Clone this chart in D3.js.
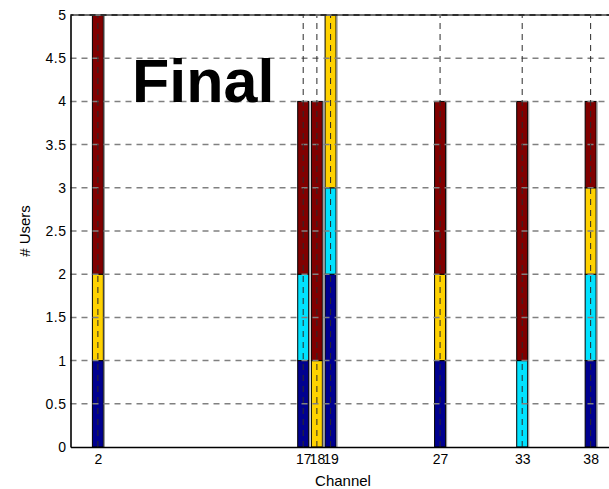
<!DOCTYPE html>
<html>
<head>
<meta charset="utf-8">
<script src="https://cdn.jsdelivr.net/npm/d3@7"></script>
<style>
  html, body { margin: 0; padding: 0; background: #fff; }
  svg { display: block; font-family: "Liberation Sans", Arial, sans-serif; }
</style>
</head>
<body>
<svg id="chart" width="609" height="489"></svg>
<script>
// Channels on the x axis
const channels = [2, 17, 18, 19, 27, 33, 38];
// Users per channel, one array per stacked group (bottom to top)
const groupA = [1, 1, 0, 2, 1, 0, 1];
const groupB = [0, 1, 0, 1, 0, 1, 1];
const groupC = [1, 0, 1, 2, 1, 0, 1];
const groupD = [3, 2, 3, 0, 2, 3, 1];
const seriesNames = ["A", "B", "C", "D"];
const seriesColors = ["#00008f", "#00e2ff", "#ffd200", "#800000"];
const yTicks = [0, 0.5, 1, 1.5, 2, 2.5, 3, 3.5, 4, 4.5, 5];
const yTickLabels = ["0", "0.5", "1", "1.5", "2", "2.5", "3", "3.5", "4", "4.5", "5"];

const rows = channels.map((c, i) => ({
  channel: c, A: groupA[i], B: groupB[i], C: groupC[i], D: groupD[i]
}));

const svg = d3.select("#chart");
const plotL = 70.5, plotR = 618, plotT = 15, plotB = 447;

const x = d3.scaleLinear().domain([0, 40]).range([plotL, plotR]);
const y = d3.scaleLinear().domain([0, 5]).range([plotB, plotT]);
const barW = x(0.8) - x(0);

const stacked = d3.stack().keys(seriesNames)(rows);

// stacked bars
const layers = svg.append("g");
stacked.forEach((layer, k) => {
  layers.append("g").selectAll("rect")
    .data(layer.filter(d => d[1] > d[0]))
    .join("rect")
    .attr("x", d => x(d.data.channel) - barW / 2)
    .attr("y", d => y(d[1]))
    .attr("width", barW)
    .attr("height", d => y(d[0]) - y(d[1]))
    .attr("fill", seriesColors[k])
    .attr("stroke", "#000")
    .attr("stroke-width", 1);
});
// soft shading on the right edge of each bar
svg.append("g").selectAll("line")
  .data(rows)
  .join("line")
  .attr("x1", d => x(d.channel) + barW / 2 + 1)
  .attr("x2", d => x(d.channel) + barW / 2 + 1)
  .attr("y1", d => y(d.A + d.B + d.C + d.D))
  .attr("y2", plotB)
  .attr("stroke", "#9a9a9a")
  .attr("stroke-width", 1.2);

// grid lines drawn above the bars
const grid = svg.append("g");
grid.selectAll("line.h")
  .data(yTicks.filter(v => v > 0 && v < 5))
  .join("line")
  .attr("class", "h")
  .attr("x1", plotL).attr("x2", plotR)
  .attr("y1", d => y(d)).attr("y2", d => y(d))
  .attr("stroke", "#808080")
  .attr("stroke-width", 1.5)
  .attr("stroke-dasharray", "6,5");
grid.selectAll("line.v")
  .data(channels)
  .join("line")
  .attr("class", "v")
  .attr("x1", d => x(d)).attr("x2", d => x(d))
  .attr("y1", plotB).attr("y2", plotT)
  .attr("stroke", "#2a2a2a")
  .attr("stroke-width", 1)
  .attr("stroke-dasharray", "6,5");
// top edge of the plot box
svg.append("line")
  .attr("x1", plotL).attr("x2", plotR)
  .attr("y1", plotT).attr("y2", plotT)
  .attr("stroke", "#707070")
  .attr("stroke-width", 1.8);
svg.append("line")
  .attr("x1", plotL).attr("x2", plotR)
  .attr("y1", plotT).attr("y2", plotT)
  .attr("stroke", "#1a1a1a")
  .attr("stroke-width", 1.6)
  .attr("stroke-dasharray", "6,5")
  .attr("stroke-dashoffset", 3);

// "Final" label
svg.append("text")
  .attr("x", 132)
  .attr("y", 102)
  .attr("font-size", 61)
  .attr("font-weight", "bold")
  .attr("fill", "#000")
  .text("Final");

// y axis
const yAxis = d3.axisLeft(y)
  .tickValues(yTicks)
  .tickFormat((d, i) => yTickLabels[i])
  .tickSize(0)
  .tickPadding(4);
const gy = svg.append("g").attr("transform", `translate(${plotL},0)`).call(yAxis);
gy.select(".domain").attr("stroke", "#000").attr("stroke-width", 1.6);
gy.selectAll("text").attr("font-size", 14).attr("fill", "#000")
  .attr("letter-spacing", "0.5px")
  .attr("font-family", "'Liberation Sans', Arial, sans-serif");

// x axis (17, 18 and 19 sit close together and their labels touch)
const xAxis = d3.axisBottom(x)
  .tickValues(channels)
  .tickFormat(d3.format("d"))
  .tickSize(0)
  .tickPadding(7);
const gx = svg.append("g").attr("transform", `translate(0,${plotB})`).call(xAxis);
gx.select(".domain").attr("stroke", "#000").attr("stroke-width", 1.6);
gx.selectAll("text").attr("font-size", 14).attr("fill", "#000")
  .attr("font-family", "'Liberation Sans', Arial, sans-serif");

// axis titles
svg.append("text")
  .attr("x", 343)
  .attr("y", 486)
  .attr("text-anchor", "middle")
  .attr("font-size", 15)
  .text("Channel");
svg.append("text")
  .attr("transform", `translate(30,${(plotT + plotB) / 2}) rotate(-90)`)
  .attr("text-anchor", "middle")
  .attr("font-size", 15)
  .text("# Users");
</script>
</body>
</html>
